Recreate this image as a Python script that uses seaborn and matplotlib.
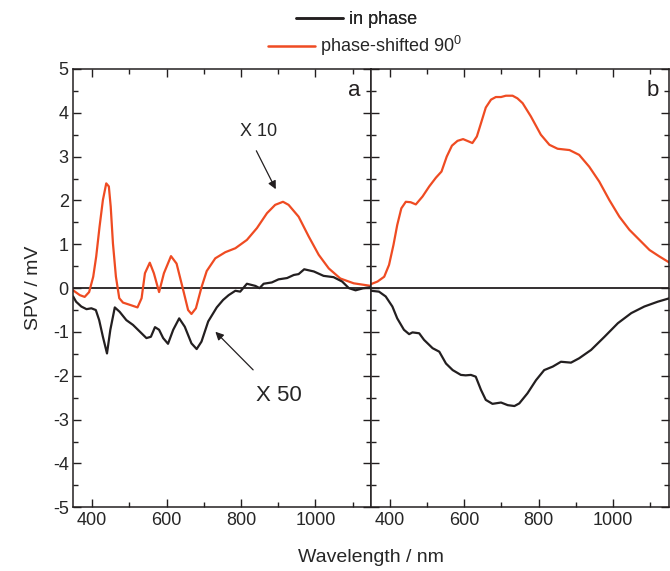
import matplotlib
matplotlib.use("Agg")
import matplotlib.pyplot as plt
from matplotlib.lines import Line2D
from matplotlib.ticker import MultipleLocator
import seaborn as sns

RED = "#ef4b22"
BLACK = "#231f20"

# panel a, phase-shifted (x10)
a_red_nm = [349, 367, 380, 392, 403, 411, 420, 429, 438, 445, 450, 456, 464, 473, 483,
            501, 522, 533, 542, 555, 566, 580, 593, 612, 627, 645, 658, 667, 679, 694,
            708, 731, 758, 785, 816, 843, 870, 892, 913, 928, 955, 982, 1009, 1036, 1067,
            1103, 1150]
a_red_val = [-0.05, -0.16, -0.20, -0.09, 0.26, 0.72, 1.40, 2.01, 2.39, 2.32, 1.86, 1.02, 0.26, -0.23, -0.33,
             -0.38, -0.44, -0.23, 0.34, 0.58, 0.34, -0.09, 0.34, 0.73, 0.56, -0.05, -0.50, -0.59, -0.46, 0.02,
             0.39, 0.68, 0.82, 0.91, 1.10, 1.37, 1.71, 1.90, 1.97, 1.90, 1.63, 1.18, 0.76, 0.45, 0.22,
             0.11, 0.05]

# panel a, in phase (x50)
a_blk_nm = [349, 357, 371, 385, 398, 410, 419, 429, 440, 449, 461, 474, 492, 510, 528,
            546, 558, 569, 580, 591, 604, 618, 634, 649, 667, 681, 694, 712, 735, 752,
            767, 785, 798, 816, 839, 850, 861, 883, 901, 924, 942, 955, 970, 996, 1022,
            1049, 1072, 1090, 1108, 1130, 1150]
a_blk_val = [-0.19, -0.31, -0.42, -0.48, -0.46, -0.50, -0.73, -1.11, -1.49, -0.95, -0.44, -0.54, -0.73, -0.84, -0.99,
             -1.14, -1.11, -0.89, -0.95, -1.14, -1.27, -0.95, -0.69, -0.88, -1.26, -1.39, -1.22, -0.76, -0.44, -0.27,
             -0.16, -0.06, -0.08, 0.10, 0.05, 0.00, 0.10, 0.13, 0.20, 0.23, 0.30, 0.32, 0.43, 0.38, 0.28,
             0.25, 0.15, 0.00, -0.05, 0.00, 0.02]

# panel b, phase-shifted
b_red_nm = [349, 367, 385, 398, 410, 420, 431, 443, 456, 470, 488, 506, 524, 539, 553,
            567, 582, 597, 611, 622, 634, 645, 658, 672, 685, 699, 712, 730, 743, 757,
            779, 806, 829, 851, 883, 909, 936, 963, 990, 1017, 1044, 1071, 1098, 1125, 1152]
b_red_val = [0.09, 0.15, 0.26, 0.53, 0.99, 1.44, 1.82, 1.97, 1.96, 1.91, 2.09, 2.32, 2.52, 2.66, 3.00,
             3.25, 3.36, 3.40, 3.35, 3.31, 3.46, 3.76, 4.12, 4.30, 4.36, 4.36, 4.39, 4.39, 4.33, 4.22,
             3.92, 3.50, 3.27, 3.18, 3.15, 3.04, 2.77, 2.43, 2.01, 1.63, 1.33, 1.10, 0.87, 0.72, 0.58]

# panel b, in phase
b_blk_nm = [349, 371, 389, 407, 420, 438, 452, 461, 479, 492, 515, 533, 551, 569, 591,
            604, 618, 631, 645, 658, 676, 699, 717, 735, 748, 770, 793, 815, 838, 860,
            887, 909, 941, 977, 1013, 1049, 1084, 1120, 1152]
b_blk_val = [-0.06, -0.08, -0.19, -0.42, -0.69, -0.95, -1.05, -1.01, -1.03, -1.18, -1.37, -1.45, -1.72, -1.87, -1.98,
             -1.99, -1.98, -2.02, -2.32, -2.55, -2.64, -2.61, -2.67, -2.69, -2.63, -2.40, -2.10, -1.87, -1.79, -1.68,
             -1.70, -1.60, -1.41, -1.11, -0.80, -0.57, -0.42, -0.31, -0.23]

sns.set_style("ticks")
plt.rcParams["font.family"] = ["Liberation Sans", "DejaVu Sans"]
plt.rcParams["mathtext.fontset"] = "custom"
plt.rcParams["mathtext.rm"] = "Liberation Sans"
plt.rcParams["axes.unicode_minus"] = False

fig = plt.figure(figsize=(6.7, 5.71), dpi=100)
left, bottom, w, h = 0.1097, 0.1116, 0.4443, 0.7676
ax_a = fig.add_axes([left, bottom, w, h])
ax_b = fig.add_axes([left + w, bottom, w, h], sharey=ax_a)

panels = [
    (ax_a, a_red_nm, a_red_val, a_blk_nm, a_blk_val, "a"),
    (ax_b, b_red_nm, b_red_val, b_blk_nm, b_blk_val, "b"),
]
for ax, rx, ry, bx, by, tag in panels:
    ax.axhline(0, color=BLACK, lw=1.3, zorder=1)
    sns.lineplot(x=rx, y=ry, ax=ax, color=RED, lw=1.6, estimator=None)
    sns.lineplot(x=bx, y=by, ax=ax, color=BLACK, lw=1.6, estimator=None)
    ax.set_xlim(350, 1150)
    ax.set_ylim(-5, 5)
    ax.xaxis.set_major_locator(MultipleLocator(200))
    ax.xaxis.set_minor_locator(MultipleLocator(100))
    ax.yaxis.set_major_locator(MultipleLocator(1))
    ax.yaxis.set_minor_locator(MultipleLocator(0.5))
    ax.tick_params(which="both", direction="in", top=True, right=True, labelsize=13, width=1, color=BLACK)
    ax.tick_params(which="major", length=6)
    ax.tick_params(which="minor", length=3.5)
    for s in ax.spines.values():
        s.set_linewidth(1.1)
        s.set_color(BLACK)
    ax.set_xlabel("")
    ax.set_ylabel("")
    ax.text(0.965, 0.975, tag, transform=ax.transAxes, ha="right", va="top", fontsize=16, color=BLACK)

ax_b.tick_params(labelleft=False)
ax_a.set_ylabel("SPV / mV", fontsize=14, labelpad=8)

ax_a.annotate("", xy=(897, 2.2), xytext=(838, 3.19),
              arrowprops=dict(arrowstyle="-|>", color=BLACK, lw=0.9, mutation_scale=12))
ax_a.text(847, 3.57, "X 10", ha="center", va="center", fontsize=13)
ax_a.annotate("", xy=(726, -0.95), xytext=(838, -1.91),
              arrowprops=dict(arrowstyle="-|>", color=BLACK, lw=0.9, mutation_scale=12))
ax_a.text(901, -2.44, "X 50", ha="center", va="center", fontsize=16)

fig.text(0.554, 0.0245, "Wavelength / nm", ha="center", va="center", fontsize=14)

h1 = Line2D([], [], color=BLACK, lw=1.8)
h2 = Line2D([], [], color=RED, lw=1.8)
leg1 = fig.legend([h1], ["in phase"], loc="center", bbox_to_anchor=(0.532, 0.966),
                  frameon=False, fontsize=13, handlelength=2.6, handletextpad=0.3)
fig.add_artist(leg1)
fig.legend([h2], ["phase-shifted 90$^0$"], loc="center", bbox_to_anchor=(0.545, 0.919),
           frameon=False, fontsize=13, handlelength=2.6, handletextpad=0.3)

fig.savefig("out.png", dpi=100)
